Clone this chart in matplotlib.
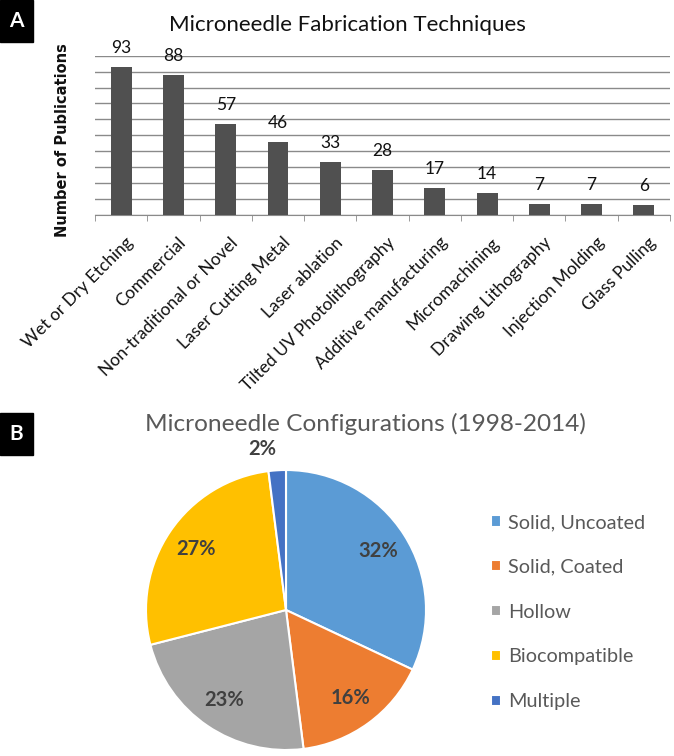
import matplotlib
matplotlib.use("Agg")
import matplotlib.pyplot as plt
from matplotlib.patches import Rectangle
from matplotlib.transforms import ScaledTranslation
import numpy as np

plt.rcParams['font.family'] = ['Lato', 'DejaVu Sans']

# Panel A: fabrication techniques
techniques = ["Wet or Dry Etching", "Commercial", "Non-traditional or Novel",
              "Laser Cutting Metal", "Laser ablation", "Tilted UV Photolithography",
              "Additive manufacturing", "Micromachining", "Drawing Lithography",
              "Injection Molding", "Glass Pulling"]
publications = [93, 88, 57, 46, 33, 28, 17, 14, 7, 7, 6]

# Panel B: configurations
configs = ["Solid, Uncoated", "Solid, Coated", "Hollow", "Biocompatible", "Multiple"]
shares = [32, 16, 23, 27, 2]
pie_colors = ["#5B9BD5", "#ED7D31", "#A5A5A5", "#FFC000", "#4472C4"]

W, H = 674, 756
fig = plt.figure(figsize=(W / 100, H / 100), dpi=100)

# ---- bar chart ----
ax1 = fig.add_axes([95 / W, (H - 215) / H, 575 / W, 159.3 / H])
x = np.arange(len(techniques))
bars = ax1.bar(x, publications, width=0.4, color="#505050", zorder=3)
ax1.set_xlim(-0.5, len(techniques) - 0.5)
ax1.set_ylim(0, 100)
ax1.set_yticks(range(0, 101, 10))
ax1.yaxis.grid(True, color="#8a8a8a", linewidth=1)
ax1.tick_params(axis="y", length=0, labelleft=False)
for s in ["top", "right", "left"]:
    ax1.spines[s].set_visible(False)
ax1.spines["bottom"].set_color("#8a8a8a")
ax1.set_xticks(x)
ax1.set_xticklabels(techniques, rotation=45, ha="right", va="top",
                    rotation_mode="anchor", fontsize=12.5, color="#111111")
ax1.set_xticks(np.arange(-0.5, len(techniques), 1), minor=True)
ax1.tick_params(axis="x", which="major", length=0, pad=14)
ax1.tick_params(axis="x", which="minor", length=4.5, color="#8a8a8a")
for lab in ax1.get_xticklabels():
    lab.set_transform(lab.get_transform() + ScaledTranslation(3 / 72, 0, fig.dpi_scale_trans))
ax1.bar_label(bars, padding=8, fontsize=12.5, color="#111111")

fig.text(347 / W, 1 - 25 / H, "Microneedle Fabrication Techniques",
         ha="center", va="center", fontsize=16, color="#111111")
fig.text(63 / W, 1 - 140 / H, "Number of Publications", rotation=90,
         ha="center", va="center", fontsize=10.5, fontweight="bold",
         family="DejaVu Sans", color="#111111")

# ---- pie chart ----
R = 140
ax2 = fig.add_axes([(286 - 1.05 * R) / W, (H - 610 - 1.05 * R) / H, 2.1 * R / W, 2.1 * R / H])
wedges, texts, autotexts = ax2.pie(
    shares, colors=pie_colors, startangle=90, counterclock=False,
    autopct=lambda p: f"{p:.0f}%", pctdistance=0.78,
    wedgeprops=dict(edgecolor="white", linewidth=1.5),
    textprops=dict(fontsize=14.5, fontweight="bold", color="#404040"))
ax2.set_xlim(-1.05, 1.05)
ax2.set_ylim(-1.05, 1.05)
w = wedges[-1]
mid = np.deg2rad((w.theta1 + w.theta2) / 2)
autotexts[-1].set_position((1.15 * np.cos(mid), 1.15 * np.sin(mid)))
autotexts[-1].set_ha("right")

fig.text(365 / W, 1 - 424 / H, "Microneedle Configurations (1998-2014)",
         ha="center", va="center", fontsize=17.6, color="#595959")

fig.legend(wedges, configs, loc="upper left", bbox_to_anchor=(491 / W, 1 - 514 / H),
           frameon=False, fontsize=14.3, labelcolor="#595959",
           handlelength=0.5, handleheight=0.5, handletextpad=0.35,
           labelspacing=1.4, borderpad=0, borderaxespad=0)

# ---- panel letters ----
for letter, top in [("A", 0), ("B", 413)]:
    fig.patches.append(Rectangle((0, 1 - (top + 42) / H), 33 / W, 42 / H,
                                 transform=fig.transFigure, color="black"))
    fig.text(16.5 / W, 1 - (top + 21) / H, letter, ha="center", va="center",
             fontsize=15, fontweight="bold", color="white")

fig.savefig("out.png", dpi=100)
